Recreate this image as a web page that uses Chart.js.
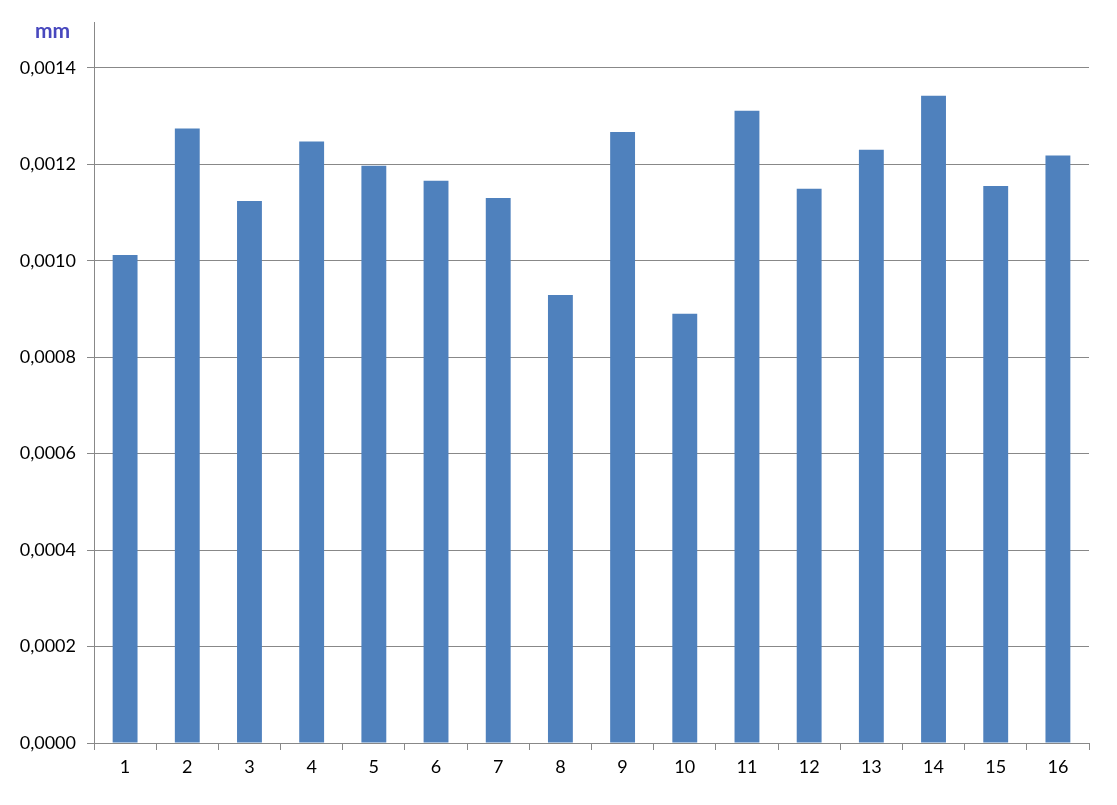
<!DOCTYPE html>
<html>
<head>
<meta charset="utf-8">
<script src="https://cdn.jsdelivr.net/npm/chart.js@4"></script>
<style>
  html, body { margin: 0; padding: 0; background: #fff; }
  #wrap { position: relative; width: 1117px; height: 805px; }
  #unit { position: absolute; left: 35px; top: 17px; font: bold 21px Lato, "Open Sans", sans-serif; color: #4848BE; line-height: 26px; }
</style>
</head>
<body>
<div id="wrap">
  <canvas id="c" width="1117" height="805"></canvas>
  <div id="unit">mm</div>
</div>
<script>
const categories = ["1","2","3","4","5","6","7","8","9","10","11","12","13","14","15","16"];
const values = [0.001012, 0.001274, 0.001124, 0.001247, 0.001197, 0.001166, 0.001130, 0.000929,
                0.001267, 0.000890, 0.001311, 0.001149, 0.001230, 0.001342, 0.001155, 0.001218];
const yTicks = [0, 0.0002, 0.0004, 0.0006, 0.0008, 0.0010, 0.0012, 0.0014];
const yMax = 0.001495;

const gridColor = '#888888';
const font = { family: 'Lato, "Open Sans", sans-serif', size: 18 };

new Chart(document.getElementById('c'), {
  type: 'bar',
  data: {
    labels: categories,
    datasets: [{
      data: values,
      backgroundColor: '#4F81BD',
      borderWidth: 0,
      barPercentage: 0.4,
      categoryPercentage: 1.0
    }]
  },
  options: {
    responsive: false,
    devicePixelRatio: 1,
    animation: false,
    layout: { padding: { top: 22, right: 28, left: 0, bottom: 0 } },
    plugins: { legend: { display: false }, tooltip: { enabled: false }, title: { display: false } },
    scales: {
      x: {
        offset: true,
        grid: { display: true, drawOnChartArea: false, drawTicks: true, tickLength: 7, color: gridColor, offset: true },
        border: { display: true, color: gridColor, width: 1 },
        ticks: { color: '#000', font: font, padding: 6, maxRotation: 0 },
        afterFit: (s) => { s.height = 62; }
      },
      y: {
        min: 0,
        max: yMax,
        afterBuildTicks: (s) => { s.ticks = yTicks.map(v => ({ value: v })); },
        grid: { color: gridColor, lineWidth: 1, tickLength: 7, drawTicks: true },
        border: { display: true, color: gridColor, width: 1 },
        ticks: {
          color: '#000', font: font, padding: 11,
          callback: (v) => Number(v).toFixed(4).replace('.', ',')
        },
        afterFit: (s) => { s.width = 94; }
      }
    }
  }
});
</script>
</body>
</html>
